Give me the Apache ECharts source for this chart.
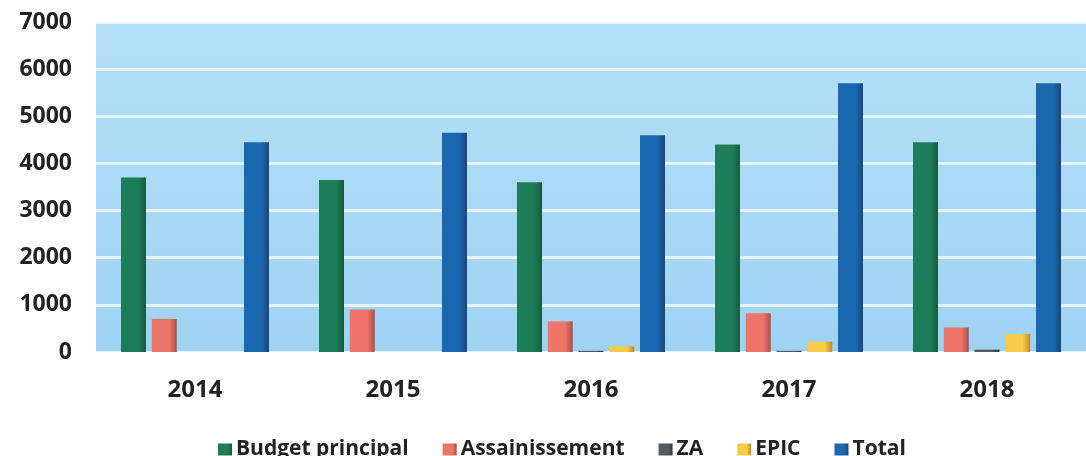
<!DOCTYPE html>
<html>
<head>
<meta charset="utf-8">
<script src="https://cdn.jsdelivr.net/npm/echarts@6/dist/echarts.min.js"></script>
<style>
html,body{margin:0;padding:0;background:#fff;}
#chart{width:1086px;height:456px;}
</style>
</head>
<body>
<div id="chart"></div>
<script>
const categories = ['2014', '2015', '2016', '2017', '2018'];
const budgetPrincipal = [3700, 3650, 3600, 4400, 4450];
const assainissement = [700, 900, 650, 820, 520];
const za = [0, 0, 25, 25, 50];
const epic = [0, 0, 120, 220, 380];
const total = [4450, 4650, 4600, 5700, 5700];
const yTicks = { min: 0, max: 7000, interval: 1000 };

function grad(light, dark) {
  return new echarts.graphic.LinearGradient(0, 0, 1, 0, [
    { offset: 0, color: light },
    { offset: 0.7, color: light },
    { offset: 1, color: dark }
  ]);
}

const chart = echarts.init(document.getElementById('chart'));
const font = 'Open Sans';
function bar(name, data, light, dark) {
  return {
    name: name, type: 'bar', data: data,
    barWidth: 25, barGap: '23%',
    itemStyle: { color: grad(light, dark) }
  };
}
chart.setOption({
  animation: false,
  grid: {
    left: 96, right: -12, top: 22, bottom: 104,
    show: true, borderWidth: 0,
    backgroundColor: new echarts.graphic.LinearGradient(0, 0, 0, 1, [
      { offset: 0, color: '#b4e0f8' },
      { offset: 1, color: '#9fd3f3' }
    ])
  },
  legend: {
    left: 213, top: 434,
    icon: 'rect', itemWidth: 14, itemHeight: 12, itemGap: 34,
    textStyle: { fontFamily: font, fontWeight: 'bold', fontSize: 21, color: '#222', padding: [0, 0, 0, -1] },
    data: ['Budget principal', 'Assainissement', 'ZA', 'EPIC', 'Total']
  },
  xAxis: {
    type: 'category', data: categories,
    axisLine: { show: false }, axisTick: { show: false },
    axisLabel: { fontFamily: font, fontWeight: 'bold', fontSize: 24, color: '#222', margin: 26 }
  },
  yAxis: {
    type: 'value', min: yTicks.min, max: yTicks.max, interval: yTicks.interval,
    axisLine: { show: false }, axisTick: { show: false },
    axisLabel: { fontFamily: font, fontWeight: 'bold', fontSize: 23, color: '#222', margin: 24,
      formatter: function (v) { return String(v); } },
    splitLine: { lineStyle: { color: 'rgba(255,255,255,0.7)', width: 3 } }
  },
  series: [
    bar('Budget principal', budgetPrincipal, '#1d7d58', '#175a40'),
    bar('Assainissement', assainissement, '#ee756a', '#a8504a'),
    bar('ZA', za, '#555a60', '#33373c'),
    bar('EPIC', epic, '#f6cc4a', '#c08a30'),
    bar('Total', total, '#1a68b0', '#1d4578')
  ]
});
</script>
</body>
</html>
